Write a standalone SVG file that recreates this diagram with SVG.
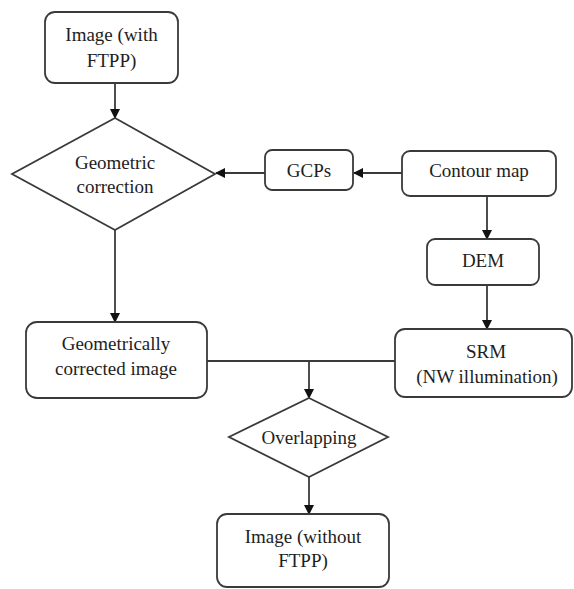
<svg xmlns="http://www.w3.org/2000/svg" width="574" height="589" viewBox="0 0 574 589">
<defs>
<marker id="a" markerWidth="10" markerHeight="10" refX="9" refY="5" orient="auto" markerUnits="userSpaceOnUse">
<path d="M0,0 L10,5 L0,10 z" fill="#111"/>
</marker>
</defs>
<rect width="574" height="589" fill="#fff"/>
<g id="connectors" fill="none" stroke="#3a3a3a" stroke-width="1.8">
<line x1="115" y1="83" x2="115" y2="118" marker-end="url(#a)"/>
<line x1="265" y1="173" x2="216" y2="173" marker-end="url(#a)"/>
<line x1="402" y1="173" x2="354" y2="173" marker-end="url(#a)"/>
<line x1="487" y1="196" x2="487" y2="239" marker-end="url(#a)"/>
<line x1="487" y1="285" x2="487" y2="329" marker-end="url(#a)"/>
<line x1="115" y1="230" x2="115" y2="322" marker-end="url(#a)"/>
<line x1="207" y1="361" x2="395" y2="361"/>
<line x1="309" y1="361" x2="309" y2="398" marker-end="url(#a)"/>
<line x1="309" y1="477" x2="309" y2="514" marker-end="url(#a)"/>
</g>
<g id="nodes" fill="#fff" stroke="#3a3a3a" stroke-width="1.8">
<g id="image-with-ftpp"><rect x="45" y="12" width="133" height="71" rx="10"/></g>
<g id="geometric-correction"><polygon points="115,118 215,174 115,230 12,174"/></g>
<g id="gcps"><rect x="265" y="150" width="88" height="40" rx="7"/></g>
<g id="contour-map"><rect x="402" y="151" width="154" height="45" rx="8"/></g>
<g id="dem"><rect x="427" y="239" width="112" height="46" rx="8"/></g>
<g id="srm"><rect x="395" y="329" width="177" height="68" rx="10"/></g>
<g id="geometrically-corrected-image"><rect x="26" y="322" width="181" height="76" rx="11"/></g>
<g id="overlapping"><polygon points="309,398 388,437 309,477 229,437"/></g>
<g id="image-without-ftpp"><rect x="217" y="514" width="172" height="73" rx="10"/></g>
</g>
<g id="labels" fill="#1e1e1e" text-anchor="middle">
<text font-family="Liberation Serif" font-size="19" x="111.5" y="41">Image (with</text>
<text font-family="Liberation Serif" font-size="19" x="111.5" y="67">FTPP)</text>
<text font-family="Liberation Serif" font-size="19" x="115" y="169">Geometric</text>
<text font-family="Liberation Serif" font-size="19" x="115" y="193">correction</text>
<text font-family="Liberation Serif" font-size="19" x="309" y="177">GCPs</text>
<text font-family="Liberation Serif" font-size="19" x="479" y="177">Contour map</text>
<text font-family="Liberation Serif" font-size="19" x="483" y="267">DEM</text>
<text font-family="Liberation Serif" font-size="19" x="486" y="358">SRM</text>
<text font-family="Liberation Serif" font-size="19" x="487" y="383">(NW illumination)</text>
<text font-family="Liberation Serif" font-size="19" x="116" y="350">Geometrically</text>
<text font-family="Liberation Serif" font-size="19" x="116" y="375">corrected image</text>
<text font-family="Liberation Serif" font-size="19" x="309" y="444">Overlapping</text>
<text font-family="Liberation Serif" font-size="19" x="303" y="543">Image (without</text>
<text font-family="Liberation Serif" font-size="19" x="303" y="567">FTPP)</text>
</g>
</svg>
